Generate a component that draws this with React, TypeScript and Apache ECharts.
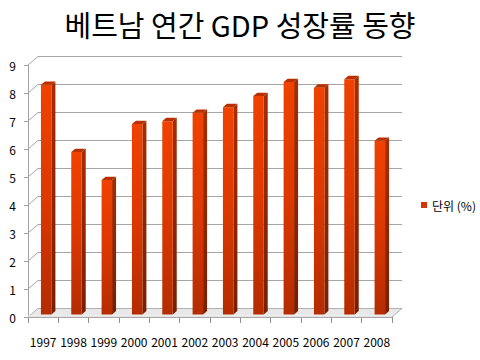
import React, { useEffect, useRef } from "react";
import * as echarts from "echarts";

const titleText = "베트남 연간 GDP 성장률 동향";
const seriesName = "단위 (%)";
const years = ["1997", "1998", "1999", "2000", "2001", "2002", "2003", "2004", "2005", "2006", "2007", "2008"];
const growth = [8.2, 5.8, 4.8, 6.8, 6.9, 7.2, 7.4, 7.8, 8.3, 8.1, 8.4, 6.2];
const yTicks = [0, 1, 2, 3, 4, 5, 6, 7, 8, 9];

const DX = 10;
const DY = 8.5;
const FONT = "'Noto Sans CJK KR', 'Noto Sans', sans-serif";

export default function App() {
  const ref = useRef<HTMLDivElement>(null);
  useEffect(() => {
    if (!ref.current) return;
    const chart = echarts.init(ref.current, undefined, { renderer: "svg" });
    const option: any = {
      animation: false,
      backgroundColor: "#ffffff",
      title: {
        text: titleText,
        left: "center",
        top: 3,
        textStyle: { fontSize: 29, lineHeight: 32, fontWeight: "normal", color: "#000", fontFamily: FONT },
      },
      legend: {
        data: [seriesName],
        orient: "vertical",
        left: 416,
        top: 194,
        itemWidth: 6,
        itemHeight: 6,
        icon: "rect",
        textStyle: { fontSize: 12, color: "#000", fontFamily: FONT },
      },
      grid: { left: 28, right: 88, top: 65, bottom: 43 },
      xAxis: {
        type: "category",
        data: years,
        boundaryGap: true,
        axisLine: { show: true, lineStyle: { color: "#a0a0a0" } },
        axisTick: { show: true, length: 6, lineStyle: { color: "#909090" } },
        axisLabel: { interval: 0, margin: 18, fontSize: 12, color: "#000", fontFamily: FONT },
        splitLine: { show: false },
      },
      yAxis: {
        type: "value",
        min: 0,
        max: 9,
        interval: 1,
        axisLine: { show: true, lineStyle: { color: "#a0a0a0" } },
        axisTick: { show: true, length: 4, lineStyle: { color: "#a0a0a0" } },
        axisLabel: { margin: 12, fontSize: 12, color: "#000", fontFamily: FONT },
        splitLine: { show: false },
      },
      series: [
        {
          type: "custom",
          name: "grid3d",
          silent: true,
          clip: false,
          z: 1,
          data: yTicks.map((v) => [0, v]),
          renderItem: (params: any, api: any) => {
            const cs = params.coordSys;
            const x0 = cs.x;
            const w = cs.width;
            const y = api.coord([0, api.value(1)])[1];
            if (api.value(1) === 0) {
              return {
                type: "group",
                children: [
                  {
                    type: "polygon",
                    shape: {
                      points: [
                        [x0, y],
                        [x0 + w, y],
                        [x0 + w + DX, y - DY],
                        [x0 + DX, y - DY],
                      ],
                    },
                    style: { fill: "#e8e8e8", stroke: "#b0b0b0", lineWidth: 1 },
                  },
                  {
                    type: "line",
                    shape: { x1: x0, y1: y - 1, x2: x0 + w, y2: y - 1 },
                    style: { stroke: "#f6f6f6", lineWidth: 1 },
                  },
                ],
              };
            }
            return {
              type: "group",
              children: [
                {
                  type: "line",
                  shape: { x1: x0, y1: y, x2: x0 + DX, y2: y - DY },
                  style: { stroke: "#a6a6a6", lineWidth: 1 },
                },
                {
                  type: "line",
                  shape: { x1: x0 + DX, y1: y - DY, x2: x0 + w + DX, y2: y - DY },
                  style: { stroke: "#a6a6a6", lineWidth: 1 },
                },
              ],
            };
          },
        },
        {
          type: "custom",
          name: seriesName,
          clip: false,
          z: 2,
          itemStyle: { color: "#d83400" },
          data: growth.map((v, i) => [i, v]),
          renderItem: (params: any, api: any) => {
            const idx = api.value(0);
            const val = api.value(1);
            const top = api.coord([idx, val]);
            const base = api.coord([idx, 0]);
            const band = api.size([1, 0])[0];
            const bw = band * 0.345;
            const f1 = 0.3;
            const f2 = 0.4;
            const xl = top[0] - bw / 2 + f1 * DX;
            const xr = xl + bw;
            const yt = top[1] - f1 * DY;
            const yb = base[1] - f1 * DY;
            const sx = f2 * DX;
            const sy = f2 * DY;
            return {
              type: "group",
              children: [
                {
                  type: "polygon",
                  shape: { points: [[xr, yt], [xr + sx, yt - sy], [xr + sx, yb - sy], [xr, yb]] },
                  style: {
                    fill: new echarts.graphic.LinearGradient(0, 0, 0, 1, [
                      { offset: 0, color: "#a82c00" },
                      { offset: 1, color: "#7a1e00" },
                    ]),
                  },
                },
                {
                  type: "rect",
                  shape: { x: xl, y: yt, width: bw, height: yb - yt },
                  style: {
                    fill: new echarts.graphic.LinearGradient(0, 0, 0, 1, [
                      { offset: 0, color: "#f04200" },
                      { offset: 0.5, color: "#dc3800" },
                      { offset: 1, color: "#b42c00" },
                    ]),
                  },
                },
                {
                  type: "polygon",
                  shape: { points: [[xl, yt], [xr, yt], [xr + sx, yt - sy], [xl + sx, yt - sy]] },
                  style: { fill: "#b83000" },
                },
              ],
            };
          },
        },
      ],
    };
    chart.setOption(option);
    return () => chart.dispose();
  }, []);
  return (
    <div
      ref={ref}
      style={{ position: "fixed", left: 0, top: 0, width: 480, height: 360 }}
    />
  );
}
